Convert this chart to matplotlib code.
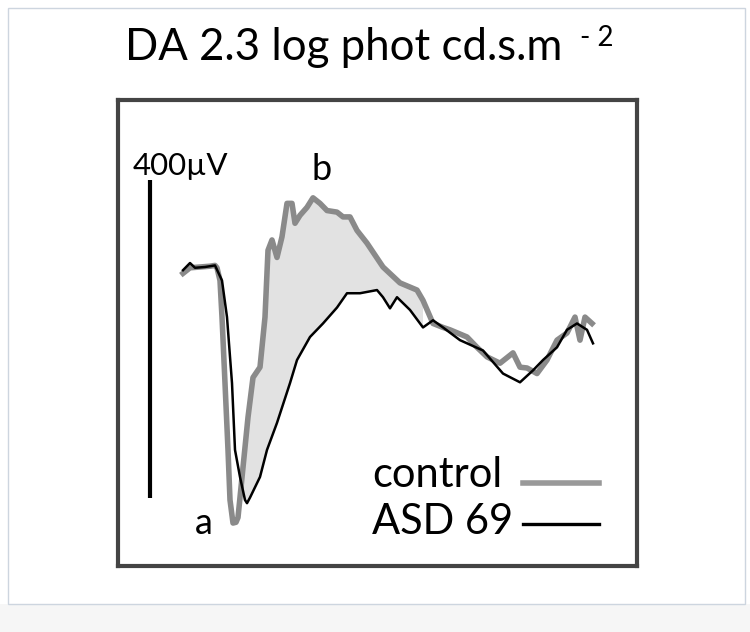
import numpy as np
import matplotlib.pyplot as plt
from matplotlib.patches import Rectangle

# time in ms (arbitrary zero at flash), amplitude in microvolts
t_control = [-13.5, -10, -5, 0, 2.5, 3.5, 5, 6, 7.5, 9, 10, 11.5, 13, 14, 16.5, 19, 21.5,
             25, 27.5, 29, 31, 33.5, 36, 38.5, 41, 42.5, 45, 48.5, 51.5, 55, 58.5, 63.5,
             66.5, 70, 73.5, 78.5, 86.5, 95, 103.5, 106.5, 111.5, 116.5, 120, 128.5, 133.5,
             138.5, 145, 151.5, 155, 158.5, 163.5, 168.5, 173.5, 178.5, 182.5, 185, 187.5, 191]
v_control = [-4, 3, 4, 5, 6, 3, -13, -59, -142, -226, -289, -318, -317, -311, -248, -185, -135,
             -122, -59, 25, 38, 16, 42, 84, 84, 59, 69, 79, 91, 84, 75, 73,
             67, 67, 50, 34, 4, -16, -25, -38, -67, -72, -75, -84, -97,
             -109, -117, -104, -122, -123, -130, -113, -88, -79, -59, -88, -59, -67]

t_asd = [-13.5, -10, -7.5, -2.5, 2.5, 6, 8.5, 11, 12.5, 15, 17.5, 18.5, 20, 25, 28.5, 33.5,
         40, 43.5, 50, 56.5, 63.5, 68.5, 75, 83.5, 86.5, 90, 93.5, 100, 106.5, 111.5, 116.5,
         125, 136.5, 146.5, 155, 161.5, 166.5, 173.5, 178.5, 183.5, 188.5, 191.5]
v_asd = [0, 9, 3, 4, 6, -13, -59, -142, -226, -260, -289, -293, -286, -260, -226, -192,
         -142, -113, -84, -67, -47, -29, -29, -25, -34, -48, -34, -50, -72, -63, -72,
         -88, -101, -130, -141, -126, -113, -97, -75, -67, -75, -92]

scale_uv = 400
labels = ["control", "ASD 69"]

plt.rcParams['font.family'] = ['Lato', 'DejaVu Sans']

fig = plt.figure(figsize=(7.5, 6.32), dpi=100)
W, H = 750, 632

# page frame
fig.patches.append(Rectangle((0, 0), 1, 1 - 604 / H, transform=fig.transFigure,
                             facecolor='#f6f6f6', edgecolor='none', zorder=-5))
fig.patches.append(Rectangle((8 / W, 1 - 604 / H), 737 / W, 596 / H, transform=fig.transFigure,
                             facecolor='white', edgecolor='#cdd5df', lw=1, zorder=-5))

ax = fig.add_axes([118 / W, 1 - 566 / H, 519 / W, 466 / H])
ax.set_zorder(5)
ax.set_xlim(-46, 213.5)
ax.set_ylim(-372, 214)
ax.set_xticks([])
ax.set_yticks([])
for s in ax.spines.values():
    s.set_linewidth(3)
    s.set_color('#444444')

tc = np.array(t_control)
vc = np.array(v_control)
ta = np.array(t_asd)
va = np.array(v_asd)

# shaded difference between the two traces (b-wave region)
mc = (tc >= 14) & (tc <= 106.5)
ma = (ta >= 15) & (ta <= 106.5)
ax.fill(np.concatenate([tc[mc], ta[ma][::-1]]), np.concatenate([vc[mc], va[ma][::-1]]),
        color='#e2e2e2', lw=0, zorder=1)

ax.plot(tc, vc, color='#8a8a8a', lw=4, zorder=2, solid_joinstyle='round')
ax.plot(ta, va, color='black', lw=1.8, zorder=3)

# scale bar
ax.plot([-30, -30], [113, 113 - scale_uv], color='black', lw=3, solid_capstyle='butt')
ax.text(-38.5, 131, "400µV", fontsize=22.5, ha='left', va='center')

ax.text(-3, -318, "a", fontsize=26, ha='center', va='center')
ax.text(56, 127, "b", fontsize=26, ha='center', va='center')

# legend
ax.text(0.49, 0.196, labels[0], transform=ax.transAxes, fontsize=30, ha='left', va='center')
ax.text(0.49, 0.094, labels[1], transform=ax.transAxes, fontsize=30, ha='left', va='center')
ax.plot([0.78, 0.927], [0.178, 0.178], transform=ax.transAxes, color='#999999', lw=4)
ax.plot([0.78, 0.927], [0.090, 0.090], transform=ax.transAxes, color='black', lw=2.4)

fig.text(125 / W, 1 - 48 / H, "DA 2.3 log phot cd.s.m", fontsize=31.5,
         ha='left', va='center')
fig.text(580 / W, 1 - 38 / H, "- 2", fontsize=20, ha='left', va='center')

fig.savefig("out.png", dpi=100)
